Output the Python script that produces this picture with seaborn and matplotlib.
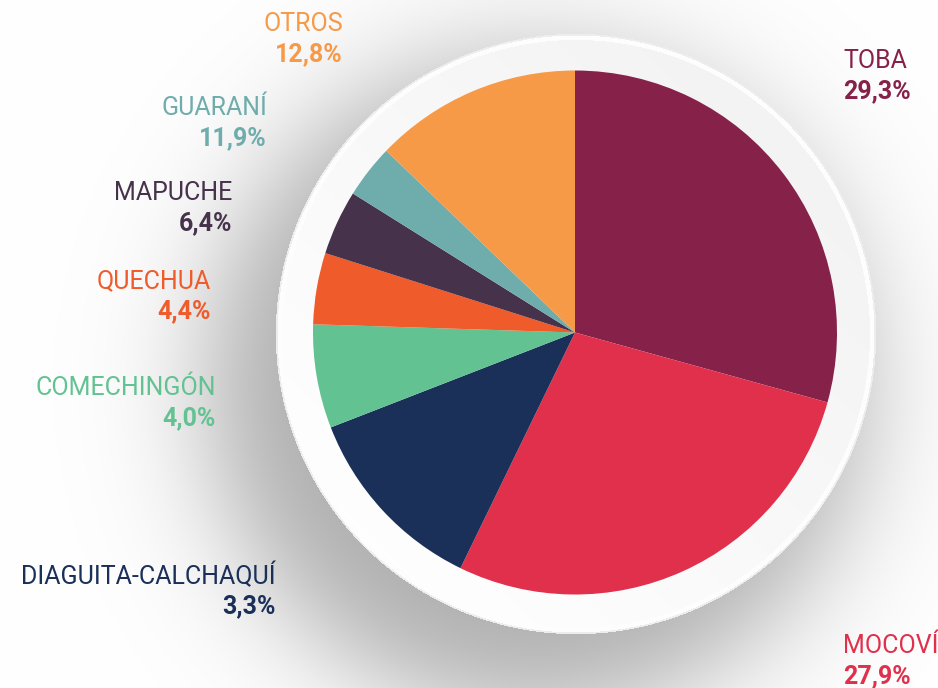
import numpy as np
import matplotlib
matplotlib.use("Agg")
import matplotlib.pyplot as plt
import seaborn as sns

# ---- data (slices drawn clockwise from 12 o'clock) ----
slice_values = [29.3, 27.9, 11.9, 6.4, 4.4, 4.0, 3.3, 12.8]
slice_colors = ["#86224A", "#E0304B", "#1A3059", "#63C292",
                "#EF5B2B", "#47324B", "#6FADAD", "#F79A48"]

# ---- labels as printed on the chart ----
label_names = ["TOBA", "MOCOVÍ", "DIAGUITA-CALCHAQUÍ", "COMECHINGÓN",
               "QUECHUA", "MAPUCHE", "GUARANÍ", "OTROS"]
label_values = ["29,3%", "27,9%", "3,3%", "4,0%", "4,4%", "6,4%", "11,9%", "12,8%"]
label_colors = ["#86224A", "#E0304B", "#1A3059", "#63C292",
                "#EF5B2B", "#47324B", "#6FADAD", "#F79A48"]

sns.set_theme(style="white")
plt.rcParams["font.family"] = ["Roboto", "DejaVu Sans"]

W, H = 938, 688
fig = plt.figure(figsize=(W / 100, H / 100), dpi=100)
ax = fig.add_axes([0, 0, 1, 1])

# ---- background: soft shadow + light disk (pixel coords, y down) ----
cx, cy, R = 576.0, 334.0, 299.0
yy, xx = np.mgrid[0:H, 0:W] + 0.5
sx, sy, Rs, s = cx - 40, cy + 50, 325.0, 36.0
ds = np.hypot(xx - sx, yy - sy)
shadow = 0.32 / (1 + np.exp((ds - Rs) / s))
img = 1.0 - shadow
d = np.hypot(xx - cx, yy - cy)
t = ((xx - cx) * 0.7071 - (yy - cy) * 0.7071) / R
disk = 0.975 - 0.022 * t
img = np.where(d <= R - 5, disk, img)
img = np.where((d > R - 5) & (d <= R - 0.5), 0.995, img)
img = np.where((d > R - 0.5) & (d <= R + 1.2), 0.93, img)
rgb = np.dstack([img, img, img])
ax.imshow(rgb, extent=(0, W, 0, H), origin="upper", interpolation="bilinear",
          zorder=0, aspect="auto")

# ---- pie ----
pcx, pcy, pr = 575.0, 332.5, 262.0
ax.pie(slice_values, colors=slice_colors, startangle=90, counterclock=False,
       center=(pcx, H - pcy), radius=pr, frame=True,
       wedgeprops=dict(linewidth=0, antialiased=True))

ax.set_xlim(0, W)
ax.set_ylim(0, H)
ax.set_aspect("equal")
ax.axis("off")

# ---- labels ----
label_pos = {
    "TOBA": (843, 61, "left"),
    "MOCOVÍ": (843, 646, "left"),
    "DIAGUITA-CALCHAQUÍ": (276, 576, "right"),
    "COMECHINGÓN": (216, 388, "right"),
    "QUECHUA": (211, 281, "right"),
    "MAPUCHE": (232, 193, "right"),
    "GUARANÍ": (267, 108, "right"),
    "OTROS": (343, 24, "right"),
}
fs = 18
for name, val, col in zip(label_names, label_values, label_colors):
    x, y, ha = label_pos[name]
    ax.text(x, H - y, name, color=col, fontsize=fs, ha=ha, va="center",
            fontweight="normal")
    ax.text(x, H - (y + 30), val, color=col, fontsize=fs, ha=ha, va="center",
            fontweight="bold")

fig.savefig("out.png", dpi=100)
